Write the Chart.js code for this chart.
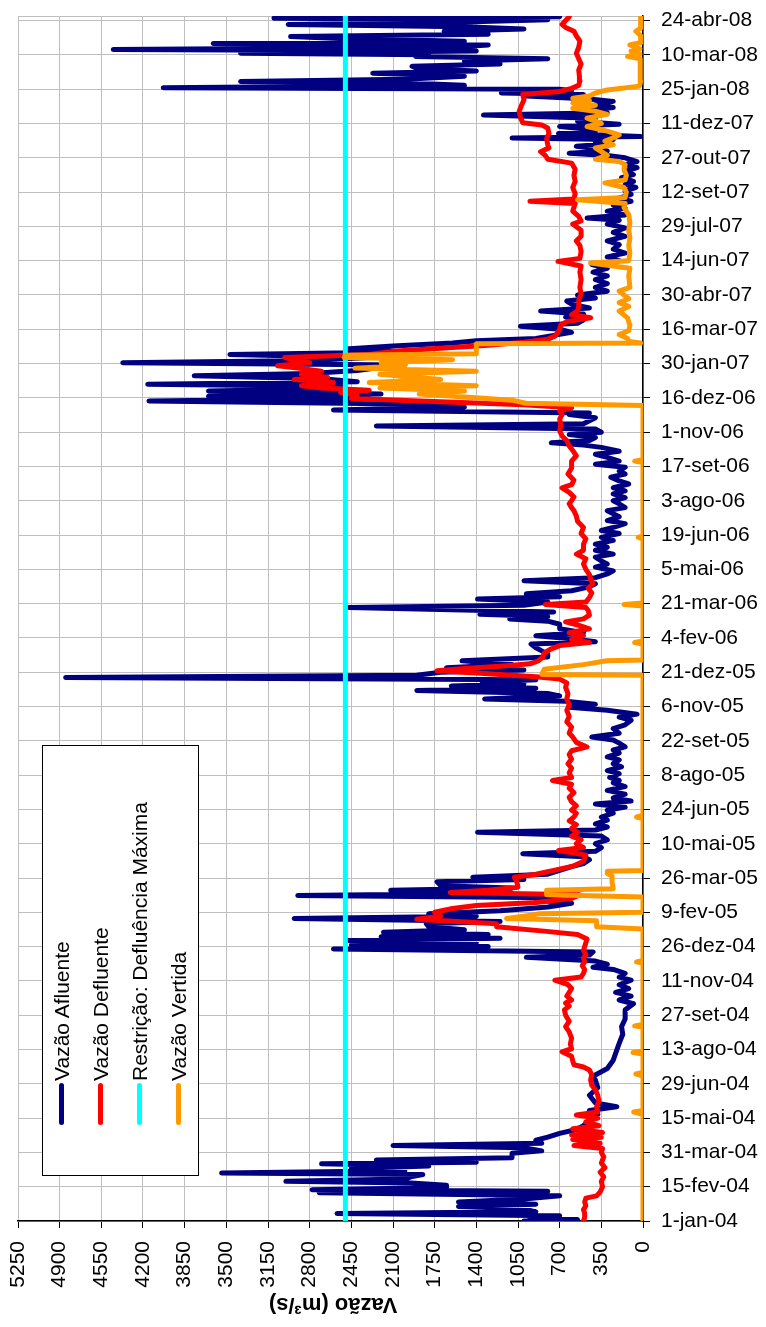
<!DOCTYPE html>
<html>
<head>
<meta charset="utf-8">
<script src="https://cdn.jsdelivr.net/npm/chart.js@4.4.1/dist/chart.umd.min.js"></script>
<style>
  html, body { margin: 0; padding: 0; background: #fff; }
  #wrap { position: relative; width: 766px; height: 1327px; overflow: hidden; font-family: "Liberation Sans", Arial, sans-serif; }
  #c { position: absolute; left: 0; top: 0; }
  #title { position: absolute; left: 223px; width: 220px; top: 1293px; height: 24px; line-height: 24px; text-align: center; font-weight: bold; font-size: 22px; transform: rotate(180deg); transform-origin: center; color: #000; }
  #legend { position: absolute; left: 42px; top: 745px; width: 157px; height: 431px; border: 1px solid #000; background: #fff; box-sizing: border-box; }
  #legInner { position: absolute; left: 0; top: 0; width: 431px; height: 157px; transform: translateY(431px) rotate(-90deg); transform-origin: top left; }
  .mk { position: absolute; left: 52px; width: 42px; height: 5px; border-radius: 3px; }
  .lt { position: absolute; left: 96px; height: 24px; line-height: 24px; font-size: 21px; white-space: nowrap; color: #000; }
</style>
</head>
<body>
<div id="wrap">
  <canvas id="c" width="766" height="1327"></canvas>
  <div id="title">Vazão (m³/s)</div>
  <div id="legend"><div id="legInner"></div></div>
</div>
<script>
// ---- tick labels ----
const dateLabels = ['1-jan-04','15-fev-04','31-mar-04','15-mai-04','29-jun-04','13-ago-04','27-set-04','11-nov-04','26-dez-04',
  '9-fev-05','26-mar-05','10-mai-05','24-jun-05','8-ago-05','22-set-05','6-nov-05','21-dez-05',
  '4-fev-06','21-mar-06','5-mai-06','19-jun-06','3-ago-06','17-set-06','1-nov-06','16-dez-06',
  '30-jan-07','16-mar-07','30-abr-07','14-jun-07','29-jul-07','12-set-07','27-out-07','11-dez-07',
  '25-jan-08','10-mar-08','24-abr-08'];
const valueTicks = [0,350,700,1050,1400,1750,2100,2450,2800,3150,3500,3850,4200,4550,4900,5250];

// ---- series (day index from 1-jan-04, vazão m³/s) ----
const afluenteDia = [0,2,4,7,10,12,16,19,22,25,29,33,37,39,41,44,47,50,52,55,58,61,63,66,69,72,75,77,80,83,87,89,92,96,99,102,106,110,115,120,125,132,140,145,150,155,165,175,185,190,200,211,220,233,245,255,265,277,285,290,295,300,305,310,316,320,325,330,333,337,341,346,349,353,357,360,362,365,368,371,373,376,379,382,386,390,393,397,400,403,407,412,417,421,424,427,430,434,437,440,445,448,451,455,460,465,469,474,478,482,485,490,495,500,505,510,513,517,521,526,530,535,539,543,547,551,555,560,565,570,575,578,582,587,591,596,600,605,609,614,618,622,627,631,635,640,646,651,657,661,665,670,674,678,682,685,689,692,696,699,702,705,707,710,713,716,720,723,726,730,735,740,744,748,752,757,760,764,768,772,777,783,787,790,793,796,799,805,808,812,816,819,823,827,832,836,840,844,849,853,858,862,866,871,875,880,884,888,893,897,902,906,910,915,919,924,928,932,936,941,945,949,954,958,962,967,971,976,980,984,989,993,997,1002,1006,1010,1015,1018,1021,1024,1028,1032,1035,1039,1043,1046,1050,1054,1058,1060,1064,1068,1072,1076,1079,1082,1085,1089,1092,1095,1098,1101,1105,1109,1112,1116,1120,1123,1126,1129,1133,1137,1140,1144,1148,1152,1155,1158,1162,1166,1170,1174,1178,1182,1186,1190,1194,1198,1203,1207,1211,1215,1220,1225,1230,1235,1240,1245,1250,1255,1260,1265,1270,1275,1281,1286,1292,1297,1303,1308,1313,1316,1320,1325,1329,1333,1338,1342,1347,1351,1356,1360,1364,1369,1373,1377,1382,1386,1390,1395,1398,1401,1404,1407,1410,1413,1416,1419,1421,1423,1425,1427,1430,1433,1436,1439,1443,1447,1451,1454,1457,1461,1465,1469,1472,1476,1478,1480,1483,1485,1487,1490,1493,1495,1498,1502,1506,1509,1512,1515,1518,1522,1525,1528,1530,1532,1535,1537,1540,1543,1545,1548,1551,1554,1557,1561,1564,1567,1570,1573,1576,1578,1580];
const afluenteVazao = [1000,550,950,700,2570,900,1000,1550,900,1550,1000,700,2720,800,2780,1650,1650,1950,3000,2000,1950,1850,3540,2000,2450,1800,2700,1400,2240,1100,1100,1100,850,1000,2100,850,900,800,700,560,500,450,380,450,220,400,450,380,400,420,300,250,230,200,170,180,150,150,80,200,100,230,120,200,100,200,150,250,420,300,400,980,450,420,2600,1300,2450,1400,2480,1200,2200,1300,2180,1500,1800,1820,1200,2930,1400,1800,1200,800,600,900,700,2900,1100,2120,1100,1700,1730,1000,1430,800,700,600,500,450,500,1010,400,350,400,300,350,1390,400,300,400,300,350,250,300,150,400,100,250,150,300,150,250,200,280,200,300,180,250,200,300,200,250,150,200,250,430,200,250,150,100,200,50,300,620,400,650,1330,700,800,1900,900,1610,1000,1350,900,4850,1900,1700,1000,1650,1100,1520,800,800,850,900,940,400,600,900,500,700,700,800,1120,800,1370,750,2470,1000,800,1390,700,980,600,450,400,1000,400,300,250,400,300,350,400,250,400,300,400,250,350,200,350,250,150,300,200,250,300,150,200,250,150,250,150,250,120,200,270,150,200,150,400,200,300,400,200,350,500,770,450,400,620,350,400,2240,500,450,400,620,450,2600,1500,2000,4150,2300,3650,2200,3650,2600,2500,4160,2400,2700,3770,2800,2400,2200,2000,4370,2800,2300,3470,2000,2500,2100,1600,1400,900,750,600,700,1030,550,500,650,500,860,450,600,640,400,550,300,400,300,400,300,420,300,430,200,300,150,250,200,300,150,250,150,300,200,470,150,300,150,250,100,200,100,150,60,150,80,180,80,150,50,150,50,150,300,620,300,400,560,300,400,250,1100,20,350,710,400,500,700,200,550,400,1340,300,500,250,400,250,450,980,500,1190,600,700,4030,1500,2000,3380,2000,1500,2270,1400,1900,1940,1200,1500,800,1910,1800,3380,1400,4450,1600,1300,3610,1500,2500,2960,1300,1670,1000,1500,2980,1500,800,3100,700];

const defluenteDia = [0,5,10,15,20,25,30,33,38,45,52,58,64,70,76,84,90,95,99,102,107,110,113,116,121,125,130,135,139,143,150,157,165,172,178,185,192,198,202,205,210,216,222,226,232,240,248,255,262,270,277,282,286,290,295,300,305,310,316,320,325,330,335,340,345,350,355,360,365,370,376,380,386,390,396,400,405,410,414,418,423,428,431,434,438,445,451,455,460,466,472,480,486,490,495,500,505,510,515,520,525,530,535,539,545,550,556,562,568,573,578,582,588,594,600,606,612,617,622,628,635,640,648,655,662,670,677,685,692,700,706,711,714,718,722,725,728,731,735,740,745,750,755,759,763,768,772,777,782,786,790,795,801,805,809,812,818,824,830,836,842,848,855,862,869,875,880,888,895,902,910,918,925,932,936,941,945,950,956,962,966,972,980,988,997,1004,1011,1017,1024,1030,1037,1045,1052,1058,1063,1067,1071,1075,1079,1083,1087,1090,1093,1096,1100,1104,1107,1111,1115,1119,1122,1126,1130,1133,1137,1141,1145,1149,1153,1157,1161,1165,1170,1176,1180,1185,1189,1194,1200,1208,1216,1225,1235,1245,1253,1259,1263,1272,1280,1286,1292,1300,1308,1312,1318,1325,1330,1335,1338,1341,1348,1356,1364,1372,1380,1388,1393,1398,1403,1408,1412,1420,1427,1434,1438,1441,1448,1456,1464,1471,1478,1482,1486,1490,1496,1502,1510,1518,1525,1532,1540,1548,1555,1561,1566,1570,1575,1580];
const defluenteVazao = [500,490,490,500,480,490,480,390,360,340,350,330,360,320,350,330,350,340,580,360,590,350,600,340,590,370,480,380,560,380,390,370,380,400,430,440,430,450,500,580,590,600,680,600,610,600,620,650,620,650,660,620,650,600,640,620,600,630,740,520,500,490,510,490,500,480,500,490,480,470,550,810,1230,1230,1900,1700,1750,1600,1400,900,600,530,1620,1300,1050,1060,1080,900,750,580,500,480,710,500,560,520,600,550,600,560,620,580,560,600,560,600,620,580,620,600,760,600,620,600,630,600,620,600,470,560,590,620,600,640,620,640,620,640,630,650,640,700,900,1300,1730,1500,1200,950,880,840,830,780,700,450,600,500,620,450,550,650,500,450,460,480,820,480,450,430,460,420,440,450,480,500,480,560,500,500,480,520,500,550,560,580,600,620,600,580,620,680,600,580,630,600,600,560,590,620,640,680,700,690,700,680,700,600,1000,1700,2450,2400,2540,2300,2700,2870,2600,2930,2650,2870,2700,2900,3070,2800,2950,3010,2300,2100,1700,1300,1000,800,740,720,700,690,640,440,600,550,540,540,520,530,520,530,520,714,530,520,530,560,520,520,590,520,540,590,580,570,950,580,570,590,570,580,570,600,800,820,860,790,800,810,790,800,850,1010,1030,1040,1020,1000,1010,700,600,540,530,534,540,520,540,560,540,530,560,580,650,680,650,620];

const restricaoDia = [0,1581];
const restricaoVazao = [2500,2500];

const vertidaDia = [0,140,143,145,190,193,195,219,221,223,254,256,258,338,340,342,383,386,394,397,400,403,405,425,428,434,436,445,453,456,459,460,528,530,532,716,717,724,730,735,736,757,759,761,807,809,811,895,897,899,995,997,999,1070,1073,1077,1081,1085,1089,1093,1096,1100,1104,1108,1111,1115,1119,1122,1126,1130,1133,1136,1138,1145,1151,1152,1154,1158,1163,1168,1175,1185,1194,1200,1205,1210,1220,1225,1240,1250,1257,1260,1270,1280,1290,1300,1310,1320,1325,1330,1335,1340,1343,1350,1356,1362,1366,1372,1380,1386,1390,1393,1398,1403,1408,1412,1417,1421,1425,1430,1436,1440,1447,1452,1456,1460,1464,1467,1470,1473,1476,1480,1484,1489,1495,1505,1515,1525,1528,1531,1535,1538,1543,1546,1555,1561,1565,1572,1580];
const vertidaVazao = [0,0,78,0,0,60,0,0,84,0,0,70,0,0,54,0,0,390,390,1146,1000,866,0,0,810,810,250,260,260,300,300,0,0,54,0,0,850,830,500,305,0,0,70,0,0,159,0,0,40,0,0,70,0,0,984,1100,1500,1880,1500,2210,1400,2300,1700,2000,2210,1400,2420,2000,2200,1600,2510,2500,1400,1400,1400,20,120,130,200,120,110,130,200,120,200,120,200,110,120,110,440,120,110,120,110,120,110,120,140,160,150,550,150,140,160,320,150,140,160,150,200,400,300,350,400,250,320,250,200,300,470,350,470,300,400,590,400,590,450,590,450,400,300,30,20,25,20,25,130,25,100,25,110,25,20,60,20,20,20];

function pts(days, vals) { return days.map((d, i) => ({ x: vals[i], y: d })); }

const seriesNames = ['Vazão Afluente', 'Vazão Defluente', 'Restrição: Defluência Máxima', 'Vazão Vertida'];
const seriesColors = ['#000080', '#ff0000', '#00ffff', '#ff9900'];

// ---- legend (HTML, rotated) ----
const legInner = document.getElementById('legInner');
const rowCenters = [18, 57, 96, 135];
seriesNames.forEach((n, i) => {
  const mk = document.createElement('div');
  mk.className = 'mk';
  mk.style.top = (rowCenters[i] - 2.5) + 'px';
  mk.style.background = seriesColors[i];
  legInner.appendChild(mk);
  const t = document.createElement('div');
  t.className = 'lt';
  t.style.top = (rowCenters[i] - 11.5) + 'px';
  t.textContent = n;
  legInner.appendChild(t);
});

const topBorder = {
  id: 'topBorder',
  beforeDatasetsDraw(chart) {
    const { ctx, chartArea: a } = chart;
    ctx.save();
    ctx.strokeStyle = '#bfbfbf';
    ctx.lineWidth = 1;
    ctx.beginPath();
    ctx.moveTo(a.left, a.top + 0.5);
    ctx.lineTo(a.right, a.top + 0.5);
    ctx.stroke();
    ctx.restore();
  }
};

const FONT = '"Liberation Sans", Arial, sans-serif';
const mkDs = (i, days, vals, order) => ({
  label: seriesNames[i],
  data: pts(days, vals),
  borderColor: seriesColors[i],
  backgroundColor: seriesColors[i],
  borderWidth: 5,
  borderCapStyle: 'round',
  borderJoinStyle: 'round',
  pointRadius: 0,
  tension: 0,
  fill: false,
  order: order
});

new Chart(document.getElementById('c'), {
  type: 'line',
  data: {
    datasets: [
      mkDs(0, afluenteDia, afluenteVazao, 4),
      mkDs(1, defluenteDia, defluenteVazao, 3),
      mkDs(2, restricaoDia, restricaoVazao, 2),
      mkDs(3, vertidaDia, vertidaVazao, 1)
    ]
  },
  options: {
    indexAxis: 'y',
    responsive: false,
    animation: false,
    devicePixelRatio: 1,
    layout: { padding: { left: 18, top: 16, right: 0, bottom: 0 } },
    plugins: { legend: { display: false }, tooltip: { enabled: false } },
    scales: {
      x: {
        type: 'linear',
        position: 'bottom',
        reverse: true,
        min: 0,
        max: 5250,
        afterFit: (s) => { s.height = 106; s.paddingLeft = 0; s.paddingRight = 0; },
        ticks: {
          stepSize: 350,
          autoSkip: false,
          minRotation: 90,
          maxRotation: 90,
          padding: 13,
          color: '#000',
          font: { family: FONT, size: 21 },
          callback: (v) => valueTicks.includes(v) ? String(v) : ''
        },
        grid: { color: '#bfbfbf', lineWidth: 1, tickLength: 7, tickColor: '#000', tickWidth: 1 },
        border: { color: '#000', width: 1.5 }
      },
      y: {
        type: 'linear',
        position: 'right',
        min: 0,
        max: 1581,
        afterFit: (s) => { s.width = 123; s.paddingTop = 0; s.paddingBottom = 0; },
        ticks: {
          stepSize: 45,
          autoSkip: false,
          includeBounds: false,
          padding: 11,
          color: '#000',
          font: { family: FONT, size: 21 },
          callback: (v) => dateLabels[Math.round(v / 45)] || ''
        },
        grid: { color: '#bfbfbf', lineWidth: 1, tickLength: 7, tickColor: '#000', tickWidth: 1 },
        border: { color: '#000', width: 1.5 }
      }
    }
  },
  plugins: [topBorder]
});
</script>
</body>
</html>
